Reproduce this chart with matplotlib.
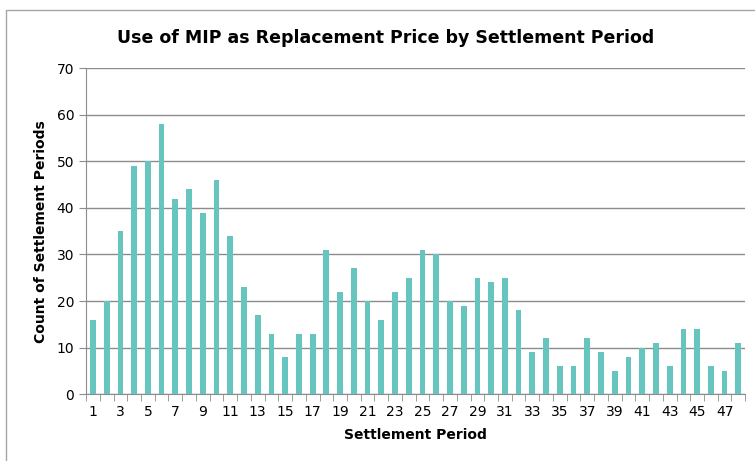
import numpy as np
import matplotlib
matplotlib.use("Agg")
import matplotlib.pyplot as plt
from matplotlib.patches import Rectangle

periods = list(range(1, 49))
counts = [16, 20, 35, 49, 50, 58, 42, 44, 39, 46, 34, 23, 17, 13, 8, 13,
          13, 31, 22, 27, 20, 16, 22, 25, 31, 30, 20, 19, 25, 24, 25, 18,
          9, 12, 6, 6, 12, 9, 5, 8, 10, 11, 6, 14, 14, 6, 5, 11]

title = "Use of MIP as Replacement Price by Settlement Period"
xlabel = "Settlement Period"
ylabel = "Count of Settlement Periods"

plt.rcParams['font.family'] = ['DejaVu Sans']

fig = plt.figure(figsize=(7.55, 4.61), dpi=100)
ax = fig.add_axes([0.114, 0.145, 0.873, 0.707])

# outer chart frame (Excel style), runs off the right/bottom edge
fig.patches.append(Rectangle((0.008, -0.2), 1.2, 1.178, transform=fig.transFigure,
                             fill=False, edgecolor='#a6a6a6', linewidth=1.0))

x = np.arange(len(periods))
ax.bar(x, counts, width=0.42, color='#66c6bf', zorder=3)

ax.set_xlim(-0.5, len(periods) - 0.5)
ax.set_ylim(0, 70)
ax.set_yticks(range(0, 71, 10))
ax.grid(axis='y', color='#8c8c8c', linewidth=1.0, zorder=0)

ax.set_xticks(x[::2])
ax.set_xticklabels([str(p) for p in periods[::2]], fontsize=10)
ax.set_xticks(np.arange(-0.5, len(periods), 1), minor=True)
ax.tick_params(axis='x', which='major', length=0, pad=8)
ax.tick_params(axis='x', which='minor', length=5, color='#8c8c8c', direction='out')
ax.tick_params(axis='y', length=5, color='#8c8c8c', labelsize=10)

for side in ['top', 'right']:
    ax.spines[side].set_visible(False)
ax.spines['left'].set_color('#8c8c8c')
ax.spines['bottom'].set_color('#8c8c8c')

fig.text(0.511, 0.918, title, fontsize=12.5, fontweight='bold', ha='center', va='center')
ax.set_xlabel(xlabel, fontsize=10, fontweight='bold', labelpad=6)
ax.set_ylabel(ylabel, fontsize=10, fontweight='bold', labelpad=6)

fig.savefig("out.png", dpi=100)
